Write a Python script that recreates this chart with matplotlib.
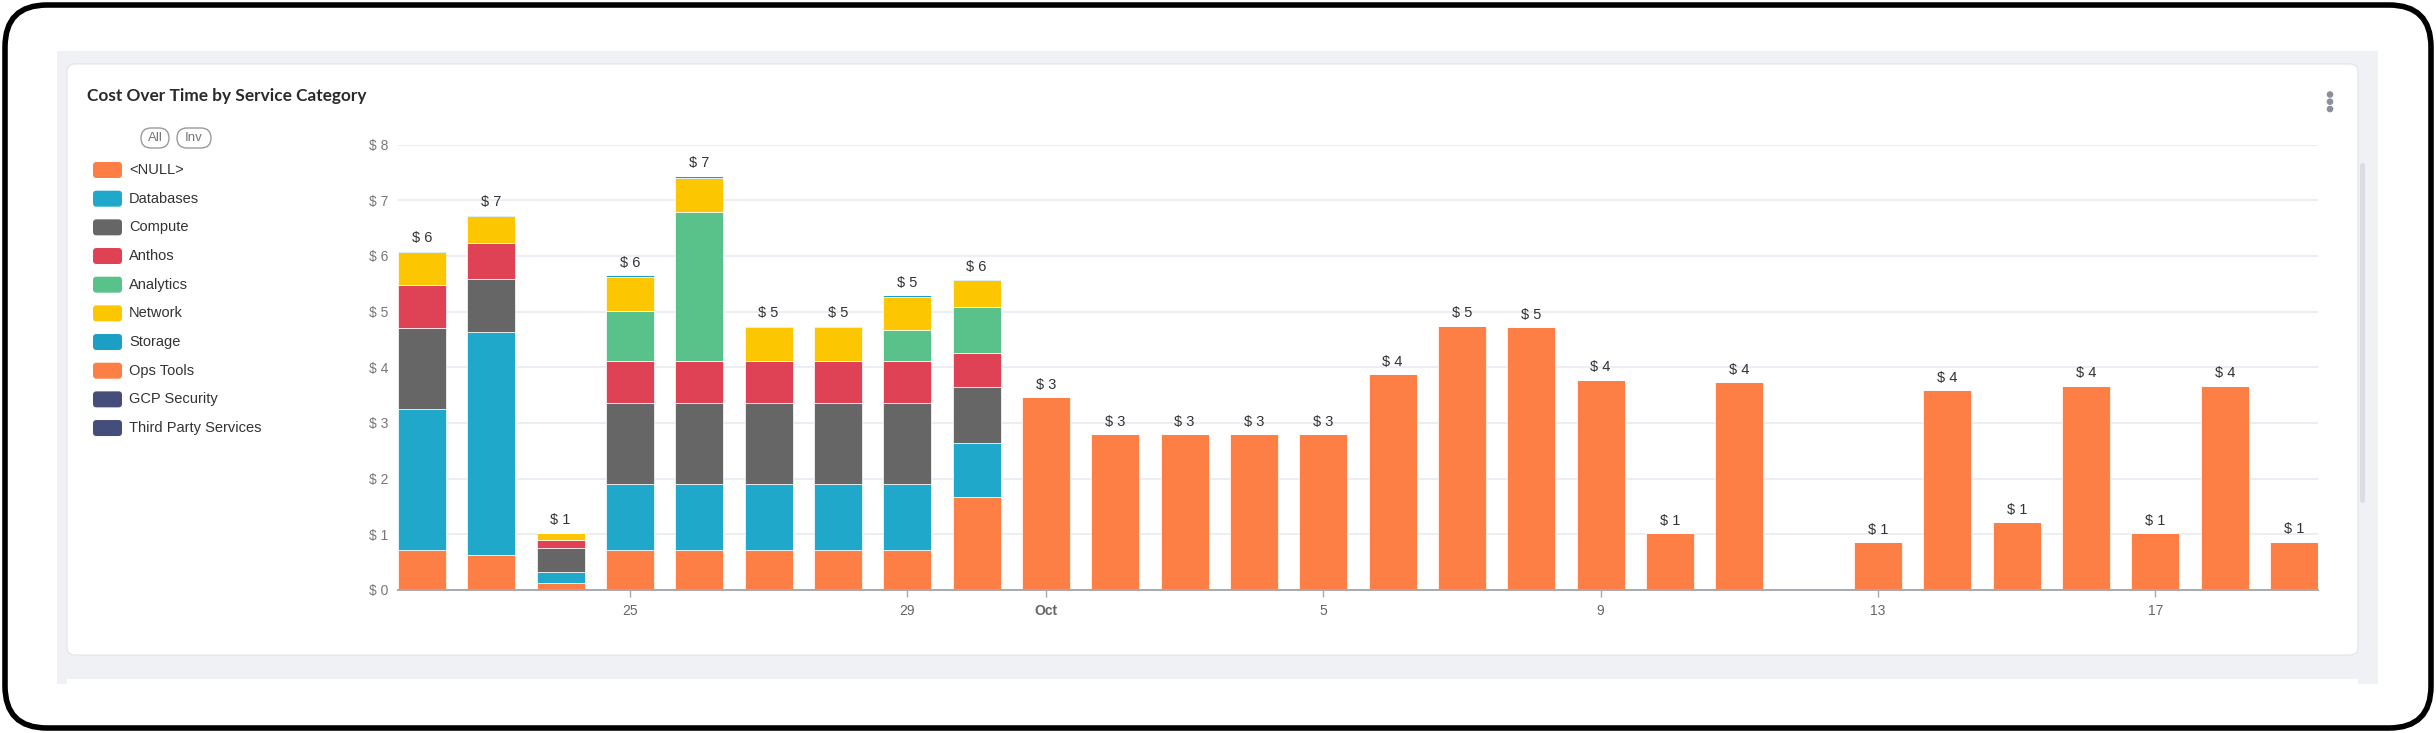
import numpy as np
import matplotlib
matplotlib.use("Agg")
import matplotlib.pyplot as plt
from matplotlib.patches import FancyBboxPatch, Rectangle, Circle

# ---------------- data ----------------
dates = ["Sep 22", "Sep 23", "Sep 24", "Sep 25", "Sep 26", "Sep 27", "Sep 28",
         "Sep 29", "Sep 30", "Oct 1", "Oct 2", "Oct 3", "Oct 4", "Oct 5",
         "Oct 6", "Oct 7", "Oct 8", "Oct 9", "Oct 10", "Oct 11", "Oct 12",
         "Oct 13", "Oct 14", "Oct 15", "Oct 16", "Oct 17", "Oct 18", "Oct 19"]

series_names = ["<NULL>", "Databases", "Compute", "Anthos", "Analytics", "Network",
                "Storage", "Ops Tools", "GCP Security", "Third Party Services"]
series_colors = ["#fe7f45", "#1fa8ca", "#666666", "#e04255", "#59c18a", "#fcc600",
                 "#1c9fc4", "#fe7f45", "#454d7b", "#454d7b"]

null_vals = [0.72, 0.62, 0.12, 0.72, 0.72, 0.72, 0.72, 0.72, 1.67,
             3.46, 2.80, 2.80, 2.80, 2.80, 3.87, 4.74, 4.72, 3.78, 1.02, 3.73, 0.0,
             0.86, 3.59, 1.22, 3.67, 1.02, 3.67, 0.87]
databases = [2.53, 4.02, 0.21, 1.18, 1.18, 1.18, 1.18, 1.18, 0.97] + [0.0] * 19
compute = [1.45, 0.94, 0.43, 1.45, 1.45, 1.45, 1.45, 1.45, 1.00] + [0.0] * 19
anthos = [0.77, 0.65, 0.13, 0.77, 0.77, 0.77, 0.77, 0.77, 0.61] + [0.0] * 19
analytics = [0.0, 0.0, 0.0, 0.89, 2.67, 0.0, 0.0, 0.54, 0.83] + [0.0] * 19
network = [0.60, 0.49, 0.13, 0.61, 0.60, 0.61, 0.61, 0.60, 0.49] + [0.0] * 19
storage = [0.02, 0.02, 0.01, 0.03, 0.05, 0.01, 0.01, 0.03, 0.01] + [0.0] * 19
ops_tools = [0.0] * 28
gcp_security = [0.0] * 28
third_party = [0.0] * 28

series_values = [null_vals, databases, compute, anthos, analytics, network,
                 storage, ops_tools, gcp_security, third_party]

tick_idx = [3, 7, 9, 13, 17, 21, 25]
tick_labels = ["25", "29", "Oct", "5", "9", "13", "17"]
y_ticks = [0, 1, 2, 3, 4, 5, 6, 7, 8]

title = "Cost Over Time by Service Category"

# ---------------- figure ----------------
W, H = 2436, 733
fig = plt.figure(figsize=(W / 100, H / 100), dpi=100)
fig.patch.set_facecolor("white")

bg = fig.add_axes([0, 0, 1, 1], zorder=0)
bg.set_xlim(0, W)
bg.set_ylim(H, 0)
bg.axis("off")

# outer frame
bg.add_patch(FancyBboxPatch((5, 5), W - 10, H - 10,
                            boxstyle="round,pad=0,rounding_size=42",
                            fc="white", ec="black", lw=4))
# gray panel
bg.add_patch(Rectangle((57, 51), 2321, 633, fc="#f0f1f4", ec="none"))
# main card
bg.add_patch(FancyBboxPatch((67, 64), 2291, 591,
                            boxstyle="round,pad=0,rounding_size=8",
                            fc="white", ec="#e3e4e8", lw=0.8))
# lower card sliver
bg.add_patch(Rectangle((67, 679), 2291, 5, fc="white", ec="none"))
# scrollbar
bg.add_patch(FancyBboxPatch((2360, 163), 5, 340,
                            boxstyle="round,pad=0,rounding_size=2.5",
                            fc="#dcdde2", ec="none"))

# title
bg.text(87, 96, title, fontsize=12.4, family=["Lato", "DejaVu Sans"],
        weight="bold", color="#2a2a2a", va="center", ha="left")

# menu dots
for yy in (94.5, 101.7, 109):
    bg.add_patch(Circle((2330, yy), 3.3, fc="#8a9099", ec="none"))

# All / Inv pills
for (x0, w0, lab) in ((141, 28, "All"), (177, 34, "Inv")):
    bg.add_patch(FancyBboxPatch((x0, 128), w0, 20,
                                boxstyle="round,pad=0,rounding_size=10",
                                fc="none", ec="#9a9a9a", lw=1.0))
    bg.text(x0 + w0 / 2, 138.3, lab, fontsize=9.5, family=["Liberation Sans"],
            color="#777777", ha="center", va="center")

# legend
for i, (name, col) in enumerate(zip(series_names, series_colors)):
    yc = 170 + i * 28.67
    bg.add_patch(FancyBboxPatch((93, yc - 8), 29, 16,
                                boxstyle="round,pad=0,rounding_size=3.5",
                                fc=col, ec="none"))
    bg.text(129, yc, name, fontsize=10.5, family=["Liberation Sans"],
            color="#333333", ha="left", va="center")

# ---------------- chart ----------------
left, right = 398, 2318
y0px, y8px = 590, 144.5
ax = fig.add_axes([left / W, 1 - y0px / H, (right - left) / W, (y0px - y8px) / H],
                  zorder=2)
ax.patch.set_alpha(0)

x = np.arange(len(dates))
bw = 0.69
bottom = np.zeros(len(dates))
for vals, col in zip(series_values, series_colors):
    v = np.array(vals)
    ax.bar(x, v, width=bw, bottom=bottom, color=col, edgecolor="white",
           linewidth=0.5, zorder=3)
    bottom += v

for i, t in enumerate(bottom):
    if t > 0:
        ax.annotate(f"$ {int(np.floor(t + 0.5))}", (x[i], t), xytext=(0, 4),
                    textcoords="offset points", ha="center", va="bottom",
                    fontsize=10.5, family=["Liberation Sans"], weight="normal",
                    color="#333333", zorder=4)

ax.set_xlim(-bw / 2, len(dates) - 1 + bw / 2)
ax.set_ylim(0, 8)
ax.set_yticks(y_ticks)
ax.set_yticklabels([f"$ {v}" for v in y_ticks])
ax.yaxis.grid(True, color="#e6e9f2", lw=1.1, zorder=0)
ax.set_axisbelow(True)
for s in ("top", "right", "left"):
    ax.spines[s].set_visible(False)
ax.spines["bottom"].set_color("#a6a9b2")
ax.spines["bottom"].set_linewidth(1.4)
ax.spines["bottom"].set_zorder(5)
ax.tick_params(axis="y", length=0, pad=7, labelsize=10, labelcolor="#777777")
ax.set_xticks(tick_idx)
ax.set_xticklabels(tick_labels)
ax.tick_params(axis="x", length=5, width=1, color="#a6a9b2", pad=5,
               labelsize=10, labelcolor="#666666")
for lab in ax.get_yticklabels() + ax.get_xticklabels():
    lab.set_family("Liberation Sans")
for lab in ax.get_xticklabels():
    if lab.get_text() == "Oct":
        lab.set_weight("bold")

fig.savefig("out.png", dpi=100)
